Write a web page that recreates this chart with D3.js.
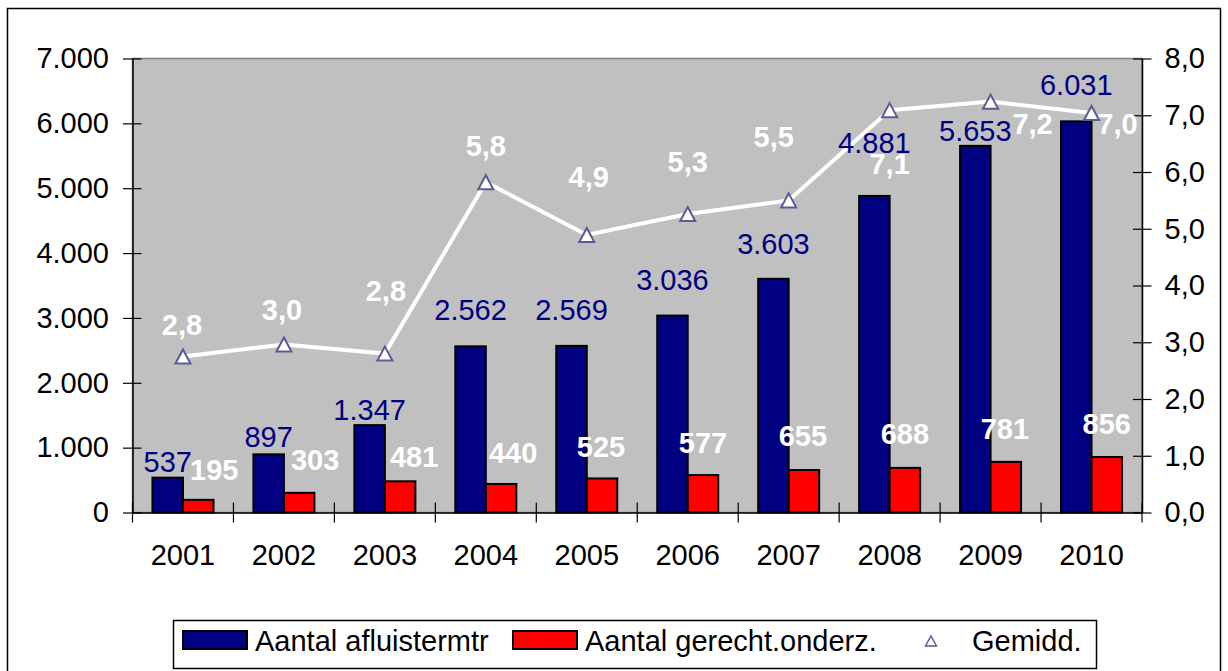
<!DOCTYPE html>
<html>
<head>
<meta charset="utf-8">
<script src="https://cdn.jsdelivr.net/npm/d3@7"></script>
<style>
  body { margin: 0; background: #fff; }
  svg text { font-family: "Liberation Sans", Arial, sans-serif; }
</style>
</head>
<body>
<svg id="chart" width="1228" height="671"></svg>
<script>
// --------- data ---------- //
var years = ["2001", "2002", "2003", "2004", "2005", "2006", "2007", "2008", "2009", "2010"];
var afluister = [537, 897, 1347, 2562, 2569, 3036, 3603, 4881, 5653, 6031];
var onderz = [195, 303, 481, 440, 525, 577, 655, 688, 781, 856];
var gemidd = [2.75, 2.96, 2.80, 5.82, 4.89, 5.26, 5.50, 7.09, 7.24, 7.04];
var leftTicks = [0, 1000, 2000, 3000, 4000, 5000, 6000, 7000];
var rightTicks = [0, 1, 2, 3, 4, 5, 6, 7, 8];
var seriesNames = ["Aantal afluistermtr", "Aantal gerecht.onderz.", "Gemidd."];

// label nudges, as placed by hand in the original sheet
var blueGap = [6, 7, 5, 26, 26, 26, 25, 43, 5, 26];
var redNudge = [[16, -30], [16, -33], [14, -25], [12, -31], [-1, -32], [0, -33], [-1, -34], [0, -34], [-1, -33], [0, -33]];
var lineNudge = [[-1, -32], [-2, -35], [1, -63], [0, -37], [2, -58], [0, -52], [-15, -64], [0, 53], [42, 22], [26, 11]];

var nl = d3.formatLocale({decimal: ",", thousands: ".", grouping: [3], currency: ["€", ""]});
var fmtInt = nl.format(",.0f");
var fmtDec = nl.format(",.1f");

var svg = d3.select("#chart");
var FONT = 29;
var plot = {left: 132.5, right: 1142, top: 58.5, bottom: 512.5};

// outer frame
svg.append("rect")
  .attr("x", 7.5).attr("y", 8.5)
  .attr("width", 1213).attr("height", 680)
  .attr("fill", "#fff").attr("stroke", "#000").attr("stroke-width", 1.5);

var x = d3.scaleBand().domain(years).range([plot.left, plot.right]);
var x1 = d3.scaleBand().domain(["a", "o"]).range([0, x.bandwidth()]).paddingOuter(0.655);
var yL = d3.scaleLinear().domain([0, 7000]).range([plot.bottom, plot.top]);
var yR = d3.scaleLinear().domain([0, 8]).range([plot.bottom, plot.top]);

// plot background
svg.append("rect")
  .attr("x", plot.left).attr("y", plot.top)
  .attr("width", plot.right - plot.left).attr("height", plot.bottom - plot.top)
  .attr("fill", "#c0c0c0").attr("stroke", "#808080").attr("stroke-width", 1.5);

// bars
var groups = svg.append("g").selectAll("g")
  .data(years).enter().append("g")
  .attr("transform", function(d){ return "translate(" + x(d) + ",0)"; });

groups.append("rect")
  .attr("x", x1("a")).attr("width", x1.bandwidth())
  .attr("y", function(d, i){ return yL(afluister[i]); })
  .attr("height", function(d, i){ return plot.bottom - yL(afluister[i]); })
  .attr("fill", "#000080").attr("stroke", "#000").attr("stroke-width", 2);

groups.append("rect")
  .attr("x", x1("o")).attr("width", x1.bandwidth())
  .attr("y", function(d, i){ return yL(onderz[i]); })
  .attr("height", function(d, i){ return plot.bottom - yL(onderz[i]); })
  .attr("fill", "#ff0000").attr("stroke", "#000").attr("stroke-width", 2);

// axes
function styleAxis(g, inner) {
  g.select(".domain").attr("stroke", "#000").attr("stroke-width", 1.5);
  g.selectAll(".tick line").attr("stroke", "#000").attr("stroke-width", 1.2);
  g.selectAll(".tick text").attr("font-size", FONT).attr("fill", "#000");
}

var gL = svg.append("g").attr("transform", "translate(" + plot.left + ",0)")
  .call(d3.axisLeft(yL).tickValues(leftTicks).tickFormat(fmtInt).tickSizeInner(9.5).tickSizeOuter(0).tickPadding(14));
gL.selectAll(".tick line").attr("x1", 9);
gL.selectAll(".tick text").attr("font-family", null);
gL.attr("font-family", null);
styleAxis(gL);

var gR = svg.append("g").attr("transform", "translate(" + plot.right + ",0)")
  .call(d3.axisRight(yR).tickValues(rightTicks).tickFormat(fmtDec).tickSizeInner(9.5).tickSizeOuter(0).tickPadding(13));
gR.selectAll(".tick line").attr("x1", -9);
gR.attr("font-family", null);
styleAxis(gR);

var gX = svg.append("g").attr("transform", "translate(0," + plot.bottom + ")")
  .call(d3.axisBottom(x).tickSize(0).tickPadding(32));
gX.attr("font-family", null);
styleAxis(gX);

// category boundary ticks, crossing the axis
var bounds = years.map(function(d){ return x(d); }).concat([plot.right]);
gX.selectAll(".bound").data(bounds).enter().append("line")
  .attr("class", "bound")
  .attr("x1", function(d){ return d; }).attr("x2", function(d){ return d; })
  .attr("y1", -10).attr("y2", 10)
  .attr("stroke", "#000").attr("stroke-width", 1.2);

// line
var cx = function(i){ return x(years[i]) + x.bandwidth() / 2; };
var line = d3.line()
  .x(function(d, i){ return cx(i); })
  .y(function(d){ return yR(d); });

svg.append("path").datum(gemidd)
  .attr("d", line)
  .attr("fill", "none").attr("stroke", "#fff").attr("stroke-width", 4);

var tri = "M0,-7L7.5,7L-7.5,7Z";
svg.append("g").selectAll("path")
  .data(gemidd).enter().append("path")
  .attr("d", tri)
  .attr("transform", function(d, i){ return "translate(" + cx(i) + "," + yR(d) + ")"; })
  .attr("fill", "#fff").attr("stroke", "#5a5a99").attr("stroke-width", 2);

// data labels
var labels = svg.append("g").attr("font-size", FONT).attr("text-anchor", "middle");

labels.selectAll(".lb").data(afluister).enter().append("text")
  .attr("class", "lb")
  .attr("x", function(d, i){ return x(years[i]) + x1("a") + x1.bandwidth() / 2; })
  .attr("y", function(d, i){ return yL(d) - blueGap[i]; })
  .attr("fill", "#000080")
  .text(function(d){ return fmtInt(d); });

labels.selectAll(".lr").data(onderz).enter().append("text")
  .attr("class", "lr")
  .attr("x", function(d, i){ return x(years[i]) + x1("o") + x1.bandwidth() / 2 + redNudge[i][0]; })
  .attr("y", function(d, i){ return yL(d) + redNudge[i][1]; })
  .attr("dy", "0.36em")
  .attr("fill", "#fff").attr("font-weight", "bold")
  .text(function(d){ return fmtInt(d); });

labels.selectAll(".ll").data(gemidd).enter().append("text")
  .attr("class", "ll")
  .attr("x", function(d, i){ return cx(i) + lineNudge[i][0]; })
  .attr("y", function(d, i){ return yR(d) + lineNudge[i][1]; })
  .attr("dy", "0.36em")
  .attr("fill", "#fff").attr("font-weight", "bold")
  .text(function(d){ return fmtDec(d); });

// legend
var lg = svg.append("g");
lg.append("rect")
  .attr("x", 173.5).attr("y", 620.5).attr("width", 923).attr("height", 48)
  .attr("fill", "#fff").attr("stroke", "#000").attr("stroke-width", 1.5);

var swatches = [{x: 183, fill: "#000080"}, {x: 513, fill: "#ff0000"}];
lg.selectAll(".sw").data(swatches).enter().append("rect")
  .attr("class", "sw")
  .attr("x", function(d){ return d.x; }).attr("y", 631)
  .attr("width", 64).attr("height", 18)
  .attr("fill", function(d){ return d.fill; })
  .attr("stroke", "#000").attr("stroke-width", 2);

lg.append("path")
  .attr("d", "M0,-5L5.5,5L-5.5,5Z")
  .attr("transform", "translate(931,641)")
  .attr("fill", "#fff").attr("stroke", "#5a5a99").attr("stroke-width", 1.5);

var textX = [255, 585, 972];
lg.selectAll(".lt").data(seriesNames).enter().append("text")
  .attr("class", "lt")
  .attr("x", function(d, i){ return textX[i]; }).attr("y", 651)
  .attr("font-size", FONT).attr("fill", "#000")
  .text(function(d){ return d; });
</script>
</body>
</html>
